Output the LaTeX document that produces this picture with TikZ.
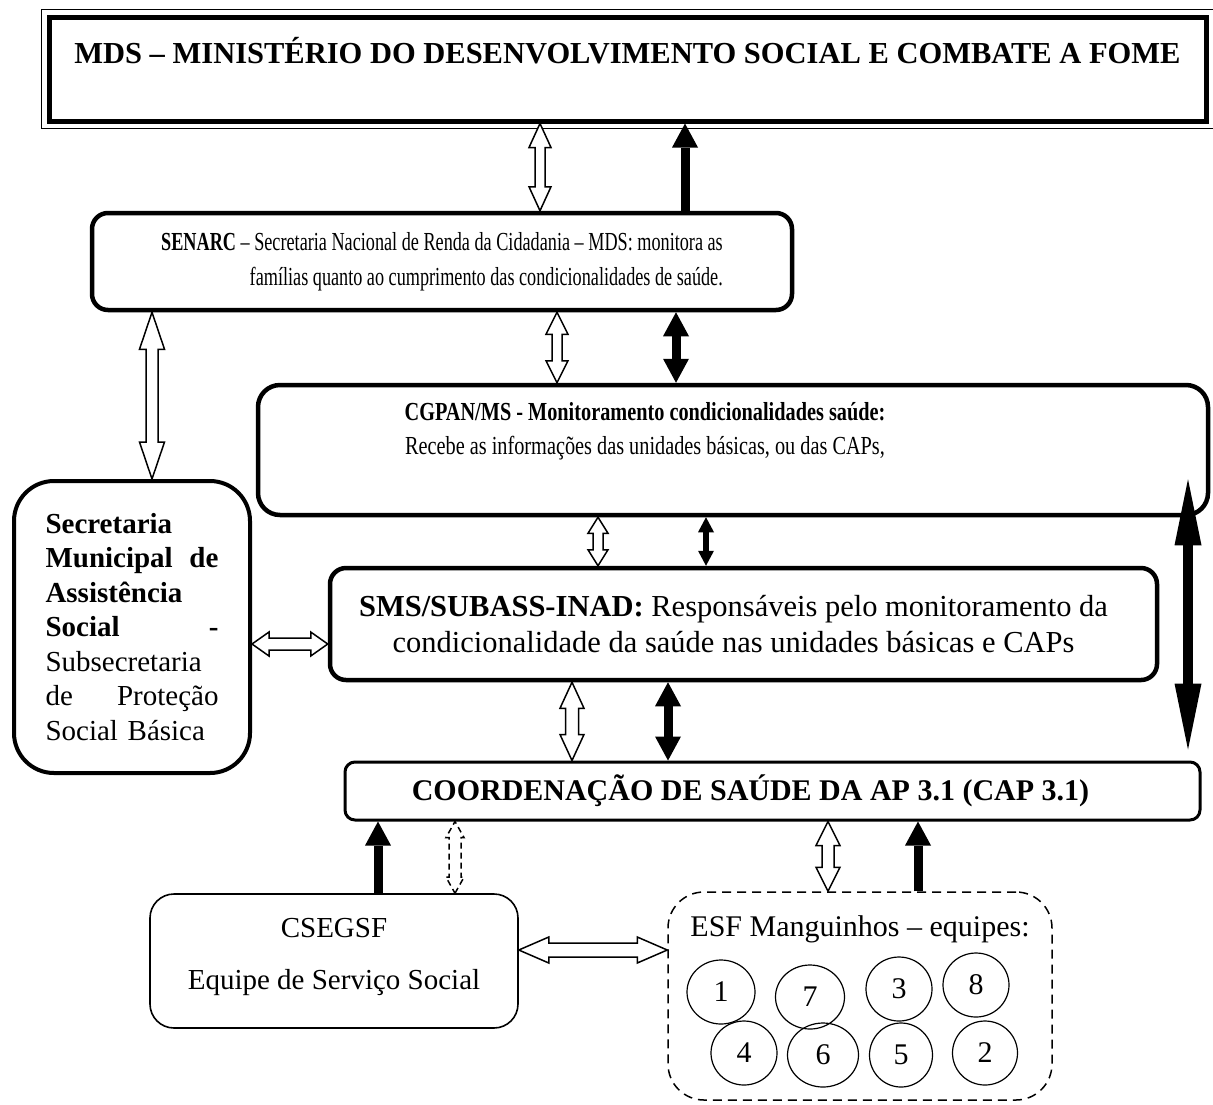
\documentclass[tikz,border=0pt]{standalone}
\usepackage{fontspec}
\setmainfont{Liberation Serif}
\newfontfamily\narrowfont{Liberation Serif}[FakeStretch=0.7]
\newfontfamily\midfont{Liberation Serif}[FakeStretch=0.78]
\usetikzlibrary{calc,arrows.meta,shapes.geometric}

\tikzset{
  heavybox/.style={draw, line width=4.5pt, rounded corners=16pt, inner sep=0pt},
  thinbox/.style={draw, line width=1.6pt, rounded corners=24pt, inner sep=0pt},
  team/.style={draw, ellipse, line width=1.2pt, inner sep=0pt, font=\fontsize{30}{34}\selectfont},
  blk/.style={line width=9pt, >={Triangle[length=24pt,width=26pt,line width=0pt]}},
  % hollow block arrow: head length, half head width, half shaft width
  hol/.style n args={3}{fill=white, line width=1.5pt, line join=miter, to path={
      let \p1=($(\tikztotarget)-(\tikztostart)$), \n1={veclen(\x1,\y1)}, \n2={atan2(\y1,\x1)} in
      [shift={(\tikztostart)}, rotate=\n2]
      (0,0) -- (#1,#2) -- (#1,#3) -- (\n1-#1,#3) -- (\n1-#1,#2) -- (\n1,0)
      -- (\n1-#1,-#2) -- (\n1-#1,-#3) -- (#1,-#3) -- (#1,-#2) -- cycle}}
}

\begin{document}
\begin{tikzpicture}[x=1pt,y=-1pt]
  \useasboundingbox (0,0) rectangle (1213,1104);

  % boxes
  \node[draw, line width=5pt, minimum width=1157, minimum height=104, text height=22pt, text depth=33pt,
        font=\bfseries\fontsize{30.5}{36}\selectfont] (mds) at (627.5,69)
        {MDS – MINISTÉRIO DO DESENVOLVIMENTO SOCIAL E COMBATE A FOME};
  \draw[line width=1.5pt] ([shift={(-5,-5)}]mds.north west) rectangle ([shift={(5,5)}]mds.south east);

  \node[heavybox, minimum width=700, minimum height=97, align=right,
        font=\narrowfont\fontsize{26}{35}\selectfont] (senarc) at (442,261.5)
        {\textbf{SENARC} – Secretaria Nacional de Renda da Cidadania – MDS: monitora as\\
         famílias quanto ao cumprimento das condicionalidades de saúde.};

  \node[heavybox, rounded corners=22pt, minimum width=950, minimum height=130] (cgpan) at (733,450) {};
  \node[align=center, font=\midfont\fontsize{26}{34}\selectfont] (cgpan-t) at ([shift={(-88,-19)}]cgpan.center)
        {\textbf{CGPAN/MS - Monitoramento condicionalidades saúde:}\\
         Recebe as informações das unidades básicas, ou das CAPs,};

  \node[heavybox, line width=4pt, rounded corners=40pt, minimum width=236, minimum height=292,
        text width=173pt, align=left, font=\fontsize{29}{34.5}\selectfont] (smas) at (132,627)
        {\textbf{Secretaria}\\
         \makebox[173pt]{\textbf{Municipal}\hfill\textbf{de}}\\
         \textbf{Assistência}\\
         \makebox[173pt]{\textbf{Social}\hfill\textbf{-}}\\
         Subsecretaria\\
         \makebox[173pt]{de\hfill Proteção}\\
         Social Básica};

  \node[heavybox, minimum width=827, minimum height=112] (sms) at (743.5,624) {};
  \node[align=center, font=\fontsize{30.5}{36}\selectfont] (sms-t) at ([xshift=-10pt]sms.center)
        {\textbf{SMS/SUBASS-INAD:} Responsáveis pelo monitoramento da\\
         condicionalidade da saúde nas unidades básicas e CAPs};

  \node[draw, line width=3pt, rounded corners=10pt, minimum width=855, minimum height=58] (cap) at (772.5,791) {};
  \node[font=\bfseries\fontsize{30}{36}\selectfont] (cap-t) at ([xshift=-22pt]cap.center)
        {COORDENAÇÃO DE SAÚDE DA AP 3.1 (CAP 3.1)};

  \node[thinbox, minimum width=368, minimum height=134] (csegsf) at (334,961) {};
  \node[align=center, font=\fontsize{29}{52}\selectfont] (csegsf-t) at ([yshift=4pt]csegsf.center)
        {CSEGSF\\ Equipe de Serviço Social};

  \node[thinbox, line width=1.5pt, dash pattern=on 9pt off 6pt, rounded corners=36pt,
        minimum width=384, minimum height=208] (esf) at (860,996) {};
  \node[font=\fontsize{30}{34}\selectfont] (esf-t) at ([yshift=-38pt]esf.north) {ESF Manguinhos – equipes:};

  \foreach \n/\px/\py/\w in {1/721/992/68, 7/810/997/69, 3/899/989/66, 8/976/985/66,
                             4/744/1053/66, 6/823/1055/71, 5/901/1055/63, 2/985/1053/65}
    \node[team, minimum width=\w, minimum height=64] (t\n) at (\px,\py) {\n};

  % columns and rows of the connectors
  \foreach \nm/\cx in {a/540, b/685, c/152, d/557, e/676, f/598, g/706,
                       h/572, i/668, j/1188, k/378, l/455, m/828, n/918}
    \coordinate (x\nm) at (\cx,0);
  \coordinate (yp) at (0,644);
  \coordinate (yq) at (0,950);

  % hollow arrows
  \draw[hol={24}{11}{5}] (xa |- mds.south) to (xa |- senarc.north);
  \draw[hol={37}{12.5}{6}] (xc |- senarc.south) to (xc |- smas.north);
  \draw[hol={22}{11}{5}] (xd |- senarc.south) to (xd |- cgpan.north);
  \draw[hol={16}{10}{5}] (xf |- cgpan.south) to (xf |- sms.north);
  \draw[hol={17}{12}{6}] (smas.east |- yp) to (sms.west |- yp);
  \draw[hol={26}{12}{6.5}] (xh |- sms.south) to (xh |- cap.north);
  \draw[hol={16}{9}{6}, dash pattern=on 6pt off 4pt] (xl |- csegsf.north) to (xl |- cap.south);
  \draw[hol={24}{12}{6}] (xm |- cap.south) to (xm |- esf.north);
  \draw[hol={30}{13}{7}] (csegsf.east |- yq) to (esf.west |- yq);

  % black arrows
  \draw[blk, ->] (xb |- senarc.north) -- (xb |- mds.south);
  \draw[blk, <->] (xe |- senarc.south) -- (xe |- cgpan.north);
  \draw[blk, line width=6pt, >={Triangle[length=15pt,width=16pt,line width=0pt]}, <->] (xg |- cgpan.south) -- (xg |- sms.north);
  \draw[blk, <->] (xi |- sms.south) -- (xi |- cap.north);
  \draw[blk, line width=10pt, >={Triangle[length=66pt,width=27pt,line width=0pt]}, <->,
        shorten <=-38pt, shorten >=11pt] (xj |- cgpan.south) -- (xj |- cap.north);
  \draw[blk, ->] (xk |- csegsf.north) -- (xk |- cap.south);
  \draw[blk, ->] (xn |- esf.north) -- (xn |- cap.south);
\end{tikzpicture}
\end{document}
